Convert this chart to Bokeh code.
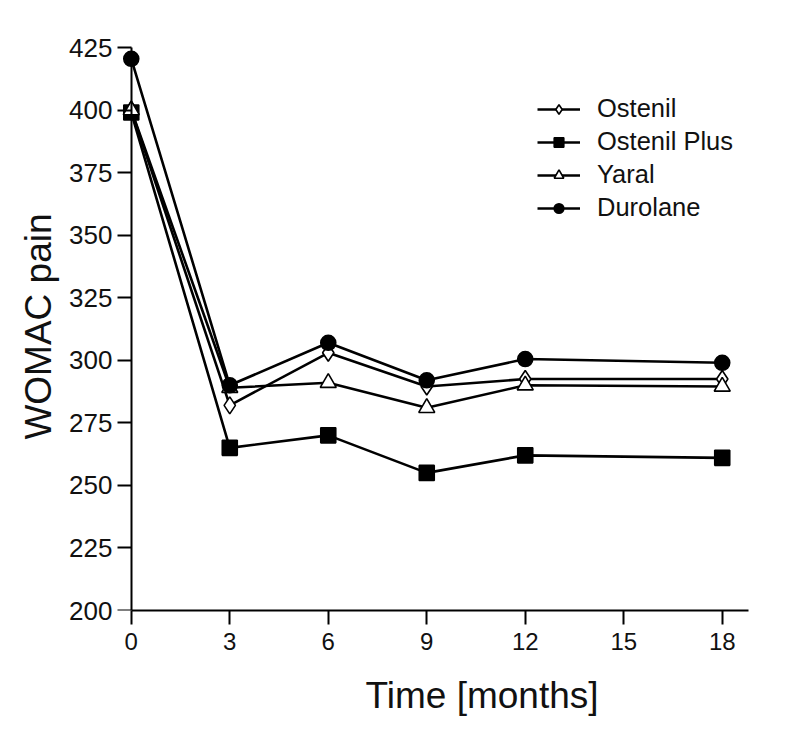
import numpy as np
from bokeh.plotting import figure
from bokeh.models import Range1d, Legend, FixedTicker, LinearAxis, Title
from bokeh.embed import file_html
from bokeh.resources import INLINE

months = [0, 3, 6, 9, 12, 18]
ostenil = [400, 282, 303, 289.5, 292.5, 292.5]
ostenil_plus = [399, 265, 270, 255, 262, 261]
yaral = [400, 289, 291, 281, 290, 289.5]
durolane = [420.5, 290, 307, 292, 300.5, 299]

x_ticks = [0, 3, 6, 9, 12, 15, 18]
y_ticks = [200, 225, 250, 275, 300, 325, 350, 375, 400, 425]

FONT = "Liberation Sans"
INK = "#111111"

p = figure(width=788, height=736, output_backend="svg", toolbar_location=None,
           x_range=Range1d(-0.45, 18.8), y_range=Range1d(200, 427),
           min_border_left=116, min_border_right=40, min_border_top=42, min_border_bottom=125)
p.outline_line_color = None
p.xgrid.visible = False
p.ygrid.visible = False

# x axis (bottom)
xa = p.xaxis[0]
xa.ticker = FixedTicker(ticks=x_ticks)
xa.bounds = (0, 18.8)
xa.axis_line_width = 2
xa.axis_line_color = "black"
xa.major_tick_line_width = 2
xa.major_tick_line_color = "black"
xa.major_tick_in = 0
xa.major_tick_out = 14
xa.minor_tick_line_color = None
xa.major_label_text_font = FONT
xa.major_label_text_font_size = "24px"
xa.major_label_text_color = INK
xa.major_label_standoff = 8

# y axis labels (left panel, at frame edge)
ya = p.yaxis[0]
ya.ticker = FixedTicker(ticks=y_ticks)
ya.axis_line_color = None
ya.major_tick_line_color = None
ya.major_tick_in = 0
ya.major_tick_out = 0
ya.minor_tick_line_color = None
ya.major_label_text_font = FONT
ya.major_label_text_font_size = "26px"
ya.major_label_text_color = INK
ya.major_label_standoff = 4

# y axis line + ticks, fixed at x = 0
yline = LinearAxis(fixed_location=0, ticker=FixedTicker(ticks=y_ticks), bounds=(200, 425),
                   axis_line_width=2, axis_line_color="black",
                   major_tick_line_width=2, major_tick_line_color="black",
                   major_tick_in=14, major_tick_out=0, minor_tick_line_color=None,
                   major_label_text_font_size="0px", major_label_text_color=None)
p.add_layout(yline, "right")

series = [
    ("Ostenil", ostenil, dict(marker="diamond", size=17, fill_color="white")),
    ("Ostenil Plus", ostenil_plus, dict(marker="square", size=15, fill_color="black")),
    ("Yaral", yaral, dict(marker="triangle", size=16, fill_color="white")),
    ("Durolane", durolane, dict(marker="circle", size=15, fill_color="black")),
]

items = []
for name, vals, mk in series:
    r1 = p.line(months, vals, line_color="black", line_width=2.6)
    r2 = p.scatter(months, vals, line_color="black", line_width=1.6, **mk)
    items.append((name, [r1, r2]))

legend = Legend(items=items, location=(421, 388), padding=0, margin=0,
                border_line_color=None, background_fill_alpha=0,
                glyph_width=43, glyph_height=24, label_height=24,
                label_standoff=17, spacing=4,
                label_text_font=FONT, label_text_font_size="25.5px",
                label_text_color=INK)
p.add_layout(legend, "center")

ylab = Title(text="WOMAC pain", align="center", standoff=15,
             text_font=FONT, text_font_size="37px", text_font_style="normal",
             text_color=INK)
xlab = Title(text="Time [months]", align="left", offset=249, standoff=41,
             text_font=FONT, text_font_size="37px", text_font_style="normal",
             text_color=INK)
p.add_layout(ylab, "left")
p.add_layout(xlab, "below")

open("out.html", "w").write(file_html(p, INLINE))
